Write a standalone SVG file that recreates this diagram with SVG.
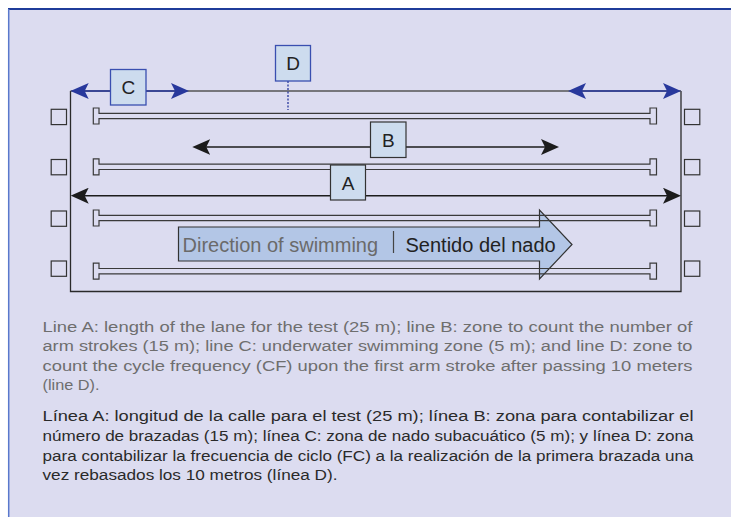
<svg xmlns="http://www.w3.org/2000/svg" xmlns:xlink="http://www.w3.org/1999/xlink" width="731" height="517" viewBox="0 0 731 517">
<style>
.panel{fill:#dcdcf0}
.box{fill:#cddcee;stroke:#333;stroke-width:1.2}
.boxblue{fill:#cddcee;stroke:#3a4fb0;stroke-width:1.3}
.lbl{font-family:"Liberation Sans",Arial,sans-serif;font-size:19px;fill:#222;text-anchor:middle}
.rope{fill:none;stroke:#3a3a3a;stroke-width:1.2}
.sq{fill:none;stroke:#333;stroke-width:1.2}
.blk{stroke:#1c1c1c;stroke-width:1.5;fill:none}
.blu{stroke:#28389c;stroke-width:1.5;fill:none}
.cap1{font-family:"Liberation Sans",Arial,sans-serif;font-size:15.5px;fill:#6e6e6e}
.cap2{font-family:"Liberation Sans",Arial,sans-serif;font-size:15.5px;fill:#2a2a2a}
.dir{font-family:"Liberation Sans",Arial,sans-serif;font-size:20px}
</style>
<defs>
<marker id="ab" markerUnits="userSpaceOnUse" viewBox="-18 -8 18 16" markerWidth="18" markerHeight="16" refX="-4" refY="0" orient="auto-start-reverse">
<path d="M0,0 L-18,-8 L-14,0 L-18,8 Z" fill="#1c1c1c"/>
</marker>
<marker id="au" markerUnits="userSpaceOnUse" viewBox="-18 -8 18 16" markerWidth="18" markerHeight="16" refX="-4" refY="0" orient="auto-start-reverse">
<path d="M0,0 L-18,-8 L-14,0 L-18,8 Z" fill="#28389c"/>
</marker>
<path id="rp" d="M99,-2.7 H650 V-8 H656.5 V8 H650 V2.7 H99 V8 H93.3 V-8 H99 Z"/>
</defs>

<rect x="0" y="0" width="731" height="517" fill="#ffffff"/>
<rect class="panel" x="8" y="9" width="723" height="508"/>
<line x1="8" y1="9" x2="731" y2="9" stroke="#1f3c9a" stroke-width="2"/>
<line x1="8.7" y1="9" x2="8.7" y2="517" stroke="#5a78cc" stroke-width="1.5"/>

<g id="pool">
<path d="M70.5,91 V291.5 H681 V91" fill="none" stroke="#2a2a2a" stroke-width="1.3"/>
<line x1="70.5" y1="91" x2="681" y2="91" stroke="#555" stroke-width="1.5"/>
</g>

<g id="direction">
<path d="M178.5,227 H539.5 V210 L572,244.5 L539.5,279 V261 H178.5 Z" fill="#b3c6e6" stroke="#333" stroke-width="1.2"/>
<text class="dir" x="182.5" y="251.5" fill="#6a6a6a">Direction of swimming</text>
<line x1="393.5" y1="231" x2="393.5" y2="253" stroke="#444" stroke-width="1.2"/>
<text class="dir" x="405.5" y="251.5" fill="#222">Sentido del nado</text>
</g>

<g id="lanes">
<use xlink:href="#rp" class="rope" transform="translate(0,116)"/>
<use xlink:href="#rp" class="rope" transform="translate(0,166.8)"/>
<use xlink:href="#rp" class="rope" transform="translate(0,218)"/>
<use xlink:href="#rp" class="rope" transform="translate(0,271.2)"/>
</g>

<g id="blocks">
<rect class="sq" x="51.2" y="109.3" width="15.3" height="15.3"/>
<rect class="sq" x="51.2" y="159.5" width="15.3" height="15.3"/>
<rect class="sq" x="51.2" y="211" width="15.3" height="15.3"/>
<rect class="sq" x="51.2" y="261" width="15.3" height="15.3"/>
<rect class="sq" x="684.5" y="109.3" width="15.3" height="15.3"/>
<rect class="sq" x="684.5" y="159.5" width="15.3" height="15.3"/>
<rect class="sq" x="684.5" y="211" width="15.3" height="15.3"/>
<rect class="sq" x="684.5" y="261" width="15.3" height="15.3"/>
</g>

<g id="connectors">
<line class="blu" x1="74.7" y1="91" x2="185" y2="91" marker-start="url(#au)" marker-end="url(#au)"/>
<line class="blu" x1="572" y1="91" x2="677" y2="91" marker-start="url(#au)" marker-end="url(#au)"/>
<line x1="288" y1="81" x2="288" y2="110" stroke="#28389c" stroke-width="1.3" stroke-dasharray="2,1.5"/>
<line class="blk" x1="196.3" y1="147" x2="555" y2="147" marker-start="url(#ab)" marker-end="url(#ab)"/>
<line class="blk" x1="74.7" y1="195.7" x2="677" y2="195.7" marker-start="url(#ab)" marker-end="url(#ab)"/>
</g>

<g id="node-C">
<rect class="boxblue" x="110.5" y="69.5" width="35.5" height="35.5"/>
<text class="lbl" x="128.3" y="94">C</text>
</g>
<g id="node-D">
<rect class="boxblue" x="275.5" y="45.5" width="35" height="35.5"/>
<text class="lbl" x="293" y="70">D</text>
</g>
<g id="node-B">
<rect class="box" x="370.5" y="122" width="35.5" height="35.5"/>
<text class="lbl" x="388.3" y="146.5">B</text>
</g>
<g id="node-A">
<rect class="box" x="330.5" y="165" width="35" height="35"/>
<text class="lbl" x="348" y="189.5">A</text>
</g>

<g id="caption">
<text class="cap1" x="42.5" y="331.5" textLength="650" lengthAdjust="spacingAndGlyphs">Line A: length of the lane for the test (25 m); line B: zone to count the number of</text>
<text class="cap1" x="42.5" y="351" textLength="650" lengthAdjust="spacingAndGlyphs">arm strokes (15 m); line C: underwater swimming zone (5 m); and line D: zone to</text>
<text class="cap1" x="42.5" y="370.7" textLength="650" lengthAdjust="spacingAndGlyphs">count the cycle frequency (CF) upon the first arm stroke after passing 10 meters</text>
<text class="cap1" x="42.5" y="390.3" textLength="57" lengthAdjust="spacingAndGlyphs">(line D).</text>
<text class="cap2" x="42.5" y="421.3" textLength="651" lengthAdjust="spacingAndGlyphs">Línea A: longitud de la calle para el test (25 m); línea B: zona para contabilizar el</text>
<text class="cap2" x="42.5" y="441" textLength="651" lengthAdjust="spacingAndGlyphs">número de brazadas (15 m); línea C: zona de nado subacuático (5 m); y línea D: zona</text>
<text class="cap2" x="42.5" y="460.6" textLength="651" lengthAdjust="spacingAndGlyphs">para contabilizar la frecuencia de ciclo (FC) a la realización de la primera brazada una</text>
<text class="cap2" x="42.5" y="480.3" textLength="295" lengthAdjust="spacingAndGlyphs">vez rebasados los 10 metros (línea D).</text>
</g>
</svg>
